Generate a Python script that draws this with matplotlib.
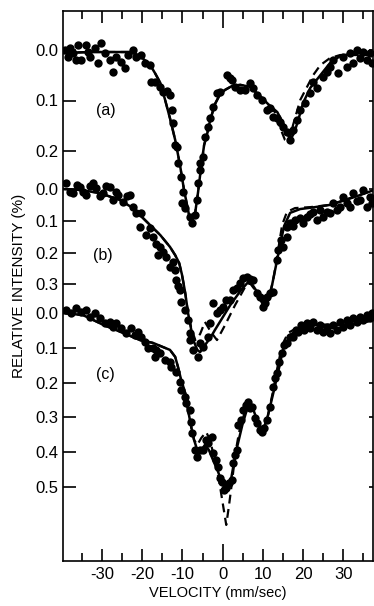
import numpy as np
import matplotlib
matplotlib.use('Agg')
import matplotlib.pyplot as plt
from matplotlib.ticker import MultipleLocator

plt.rcParams['font.family'] = ['Liberation Sans', 'DejaVu Sans']
plt.rcParams['axes.unicode_minus'] = False

# ---- spectrum (a) ----
a_v = [-39.2, -38.4, -37.9, -37.2, -36.4, -35.9, -35.2, -34.0, -33.5, -33.0,
       -31.7, -31.0, -30.2, -29.2, -28.0, -27.2, -26.5, -25.2, -24.3, -23.5,
       -22.3, -21.5, -20.3, -19.3, -18.0, -17.8, -16.8, -15.5, -14.8, -13.8,
       -13.1, -12.6, -12.3, -11.8, -11.3, -11.1, -10.3, -9.8, -10.1, -9.3,
       -8.1, -7.6, -6.8, -6.3, -6.1, -5.6, -5.6, -4.9, -4.4, -3.6,
       -3.1, -2.4, -1.4, -0.6, 1.1, 1.9, 2.4, 3.1, 4.4, 5.6,
       6.8, 7.6, 8.6, 9.8, 11.1, 11.8, 12.6, 13.6, 14.3, 15.0,
       16.0, 16.8, 17.5, 18.5, 19.3, 20.5, 21.8, 22.5, 23.5, 25.0,
       26.0, 26.7, 27.5, 28.7, 29.9, 31.0, 31.7, 32.5, 33.5, 34.2,
       34.9, 35.9, 36.7, 37.2]
a_i = [0.000, 0.014, -0.004, 0.006, 0.020, -0.010, 0.020, -0.010, 0.004, 0.014,
       -0.004, 0.026, -0.014, 0.006, 0.020, 0.044, 0.014, 0.024, 0.036, 0.010,
       0.000, 0.014, 0.010, 0.026, 0.030, 0.063, 0.063, 0.073, 0.083, 0.081,
       0.089, 0.119, 0.145, 0.188, 0.192, 0.224, 0.251, 0.281, 0.303, 0.313,
       0.331, 0.343, 0.327, 0.297, 0.263, 0.238, 0.224, 0.212, 0.172, 0.152,
       0.135, 0.113, 0.085, 0.083, 0.050, 0.055, 0.059, 0.073, 0.079, 0.079,
       0.065, 0.075, 0.089, 0.099, 0.119, 0.115, 0.133, 0.135, 0.143, 0.152,
       0.162, 0.178, 0.158, 0.139, 0.119, 0.105, 0.085, 0.063, 0.075, 0.053,
       0.044, 0.034, 0.020, 0.046, 0.014, 0.034, 0.006, 0.026, 0.000, 0.016,
       0.004, 0.020, 0.006, 0.026]
a_fit_v = [-39.7, -33.0, -28.0, -23.0, -20.5, -18.0, -16.8, -15.5, -14.3, -13.1,
           -11.8, -10.6, -9.6, -8.8, -8.1, -7.6, -6.8, -6.1, -5.3, -4.6,
           -3.9, -3.1, -1.9, -0.6, 0.6, 2.4, 4.4, 6.8, 9.3, 11.3,
           13.6, 15.3, 16.8, 17.8, 18.8, 20.0, 21.8, 24.3, 26.7, 29.2,
           31.7, 34.9, 37.7]
a_fit_i = [0.006, 0.004, 0.004, 0.004, 0.012, 0.030, 0.046, 0.065, 0.099, 0.135,
           0.178, 0.228, 0.277, 0.309, 0.337, 0.341, 0.321, 0.281, 0.228, 0.188,
           0.168, 0.139, 0.107, 0.087, 0.079, 0.071, 0.069, 0.073, 0.091, 0.107,
           0.123, 0.149, 0.178, 0.164, 0.139, 0.105, 0.075, 0.050, 0.026, 0.012,
           0.008, 0.006, 0.010]
a_dash_v = a_fit_v[:30] + [13.6, 14.3, 15.5, 16.5, 17.5, 19.3, 21.0, 22.5, 24.3, 26.7, 29.2, 37.7]
a_dash_i = a_fit_i[:30] + [0.129, 0.154, 0.178, 0.184, 0.149, 0.099, 0.073, 0.050, 0.030, 0.016, 0.010, 0.010]

# ---- spectrum (b) ----
b_v = [-39.0, -37.9, -37.2, -36.2, -35.4, -34.7, -34.0, -33.0, -32.2, -31.5,
       -30.5, -29.7, -29.0, -28.0, -27.2, -26.5, -26.0, -24.8, -23.8, -23.0,
       -22.3, -21.5, -20.3, -20.5, -19.0, -18.0, -17.3, -16.5, -15.5, -16.0,
       -14.8, -14.1, -13.1, -12.3, -11.8, -11.6, -11.1, -10.6, -10.3, -9.3,
       -8.6, -8.1, -8.1, -7.3, -6.1, -5.6, -4.9, -3.6, -3.1, -2.4,
       -1.4, -0.6, 0.1, 0.9, 1.9, 2.6, 3.6, 4.4, 5.1, 6.1,
       6.8, 7.6, 8.6, 9.3, 10.1, 10.6, 11.1, 11.8, 12.6, 13.6,
       13.8, 14.6, 15.0, 16.0, 16.0, 16.8, 17.5, 18.0, 19.3, 20.0,
       21.0, 21.8, 22.5, 23.5, 24.3, 25.0, 26.0, 26.7, 27.5, 28.5,
       29.2, 29.9, 31.0, 31.7, 32.5, 33.5, 34.2, 34.9, 35.9, 36.7, 37.2]
b_i = [-0.019, 0.009, 0.013, -0.013, -0.006, 0.009, 0.019, -0.009, -0.019, -0.003,
       0.022, 0.013, -0.009, -0.006, 0.035, 0.009, 0.019, 0.041, 0.022, 0.019,
       0.057, 0.075, 0.075, 0.119, 0.145, 0.123, 0.151, 0.173, 0.182, 0.208,
       0.198, 0.214, 0.245, 0.230, 0.255, 0.286, 0.305, 0.318, 0.355, 0.381,
       0.412, 0.453, 0.475, 0.506, 0.528, 0.484, 0.497, 0.465, 0.421, 0.358,
       0.390, 0.381, 0.371, 0.349, 0.349, 0.318, 0.311, 0.296, 0.280, 0.277,
       0.283, 0.286, 0.327, 0.340, 0.371, 0.358, 0.340, 0.327, 0.324, 0.223,
       0.192, 0.160, 0.182, 0.151, 0.119, 0.107, 0.116, 0.097, 0.091, 0.107,
       0.088, 0.079, 0.072, 0.097, 0.066, 0.088, 0.072, 0.075, 0.044, 0.066,
       0.057, 0.025, 0.044, 0.057, 0.013, 0.038, 0.035, 0.003, 0.057, 0.025, 0.044]
b_fit_v = [-39.7, -35.4, -30.5, -25.5, -22.3, -18.8, -15.5, -13.1, -11.8, -10.8,
           -10.1, -9.3, -8.6, -7.8, -7.1, -6.3, -5.6, -4.4, -3.1, -1.9,
           -0.1, 1.9, 4.4, 6.1, 7.3, 8.6, 9.8, 10.6, 11.3, 12.3,
           13.3, 14.3, 15.3, 16.8, 19.3, 23.0, 26.7, 30.5, 34.2, 37.7]
b_fit_i = [0.000, 0.003, 0.013, 0.035, 0.060, 0.104, 0.145, 0.182, 0.208, 0.233,
           0.270, 0.327, 0.390, 0.443, 0.481, 0.506, 0.513, 0.491, 0.469, 0.443,
           0.406, 0.365, 0.321, 0.296, 0.299, 0.324, 0.358, 0.365, 0.349, 0.302,
           0.239, 0.176, 0.116, 0.075, 0.063, 0.057, 0.050, 0.035, 0.019, 0.003]
b_dash_v = b_fit_v[:13] + [-7.8, -6.8, -5.6, -4.4, -2.9, -1.4, 0.6,
                           3.1, 5.6, 6.8, 8.1, 9.8, 10.8, 11.8, 12.8, 13.8, 14.8,
                           16.0, 18.0, 21.8, 26.7, 37.7]
b_dash_i = b_fit_i[:13] + [0.437, 0.475, 0.456, 0.418, 0.450, 0.475, 0.428,
                           0.365, 0.308, 0.296, 0.318, 0.358, 0.368, 0.333, 0.270, 0.192, 0.113,
                           0.072, 0.060, 0.057, 0.050, 0.003]

# ---- spectrum (c) ----
c_v = [-38.9, -37.7, -36.4, -35.2, -34.0, -33.0, -31.7, -30.5, -29.2, -28.0,
       -27.2, -26.5, -25.2, -24.0, -22.8, -21.8, -21.0, -20.3, -19.3, -18.5,
       -17.3, -16.5, -16.8, -15.5, -14.3, -13.1, -12.8, -11.6, -10.6, -10.3,
       -9.3, -9.1, -8.1, -7.8,
       -7.6, -6.8, -6.3, -5.6, -4.9, -4.1, -3.6, -2.6, -2.4, -1.6,
       -1.1, -0.6, -0.1, 0.4, 0.9, 1.6, 2.4, 2.6, 3.1, 3.6,
       3.9, 4.6, 5.1, 5.8, 6.3, 6.8, 7.3, 8.1, 8.6, 9.3,
       9.8, 10.3, 11.1, 11.8, 12.6, 13.1, 13.6, 14.1, 14.8, 15.3,
       16.0, 16.8, 17.5, 18.3, 18.8, 19.5, 20.3, 21.0, 21.8, 22.5,
       23.5, 24.3, 25.0, 26.0, 26.7, 27.5, 28.5, 29.2, 29.9, 31.0,
       31.7, 32.5, 33.5, 34.2, 34.9, 35.9, 36.7, 37.2]
c_i = [-0.009, 0.000, -0.014, -0.003, -0.009, 0.011, 0.000, 0.014, 0.029, 0.026,
       0.040, 0.029, 0.043, 0.057, 0.043, 0.063, 0.055, 0.069, 0.083, 0.101,
       0.101, 0.106, 0.126, 0.115, 0.135, 0.141, 0.155, 0.170, 0.198, 0.221,
       0.241, 0.259, 0.279, 0.313,
       0.345, 0.394, 0.414, 0.394, 0.394, 0.365, 0.374, 0.356, 0.402, 0.422,
       0.443, 0.474, 0.486, 0.509, 0.503, 0.489, 0.480, 0.431, 0.408, 0.394,
       0.322, 0.307, 0.279, 0.264, 0.256, 0.273, 0.270, 0.302, 0.316, 0.336,
       0.342, 0.330, 0.307, 0.270, 0.213, 0.187, 0.172, 0.141, 0.115, 0.092,
       0.086, 0.069, 0.069, 0.049, 0.055, 0.034, 0.049, 0.029, 0.043, 0.026,
       0.049, 0.034, 0.055, 0.040, 0.057, 0.034, 0.049, 0.026, 0.040, 0.020,
       0.034, 0.014, 0.026, 0.011, 0.020, 0.006, 0.014, 0.000]
c_fit_v = [-39.7, -34.7, -29.7, -24.8, -20.5, -17.3, -14.8, -13.1, -11.8, -11.1,
           -10.3, -9.3, -8.6, -7.8, -7.1, -6.3, -5.3, -4.4, -3.4, -2.4,
           -1.1, -0.1, 0.9, 1.9, 2.6, 3.6, 4.9, 6.3, 7.3, 8.3,
           9.6, 10.3, 11.3, 12.6, 13.8, 15.0, 16.8, 19.3, 23.5, 27.5,
           33.0, 37.7]
c_fit_i = [0.000, 0.006, 0.034, 0.057, 0.078, 0.086, 0.098, 0.106, 0.126, 0.155,
           0.193, 0.230, 0.279, 0.328, 0.365, 0.394, 0.394, 0.379, 0.394, 0.422,
           0.457, 0.491, 0.509, 0.491, 0.445, 0.385, 0.322, 0.267, 0.267, 0.299,
           0.330, 0.330, 0.293, 0.230, 0.170, 0.106, 0.063, 0.043, 0.034, 0.034,
           0.032, 0.020]
c_dash_v = c_fit_v[:15] + [-6.3, -5.3, -4.1, -3.1, -2.1, -0.9, 0.1, 0.9, 1.6, 2.4,
                           3.1, 4.1, 5.3, 6.3, 7.3, 8.3, 9.6, 10.3, 11.3, 12.6,
                           13.6, 14.8, 16.3, 18.5, 23.5, 27.5, 33.0, 37.7]
c_dash_i = c_fit_i[:15] + [0.379, 0.359, 0.342, 0.365, 0.417, 0.480, 0.552, 0.609, 0.552, 0.480,
                           0.408, 0.342, 0.293, 0.264, 0.267, 0.299, 0.330, 0.330, 0.293, 0.221,
                           0.158, 0.092, 0.057, 0.043, 0.034, 0.034, 0.032, 0.020]

a_ticks = [0.0, 0.1, 0.2]
b_ticks = [0.0, 0.1, 0.2, 0.3]
c_ticks = [0.0, 0.1, 0.2, 0.3, 0.4, 0.5]

# each spectrum is stacked in a shared vertical frame: (zero level, units per 1 %)
rows = {'a': (50, 505), 'b': (189, 318), 'c': (313, 348)}


def place(panel, vals):
    base, gain = rows[panel]
    return base + gain * np.asarray(vals)


fig = plt.figure(figsize=(3.74, 6.06), dpi=100)
ax = fig.add_axes([63 / 374, 45 / 606, 310 / 374, 550 / 606])

spectra = [('a', a_v, a_i, a_fit_v, a_fit_i, a_dash_v, a_dash_i),
           ('b', b_v, b_i, b_fit_v, b_fit_i, b_dash_v, b_dash_i),
           ('c', c_v, c_i, c_fit_v, c_fit_i, c_dash_v, c_dash_i)]
for key, v, i, fv, fi, dv, di in spectra:
    ax.plot(fv, place(key, fi), color='black', lw=1.8, zorder=2)
    ax.plot(dv, place(key, di), color='black', lw=1.6, ls=(0, (4, 2.5)), zorder=2)
    ax.plot(v, place(key, i), 'o', color='black', ms=6, mew=0, zorder=3)

ax.text(-29.0, place('a', 0.119), '(a)', ha='center', va='center', fontsize=11.5)
ax.text(-29.7, place('b', 0.208), '(b)', ha='center', va='center', fontsize=11.5)
ax.text(-29.2, place('c', 0.178), '(c)', ha='center', va='center', fontsize=11.5)

ax.set_xlim(-39.7, 37.4)
ax.set_ylim(561, 11)

ytick_pos = list(place('a', a_ticks)) + list(place('b', b_ticks)) + list(place('c', c_ticks))
ytick_lab = ['%.1f' % t for t in a_ticks + b_ticks + c_ticks]
ax.set_yticks(ytick_pos)
ax.set_yticklabels(ytick_lab)

ax.xaxis.set_major_locator(MultipleLocator(10))
ax.xaxis.set_minor_locator(MultipleLocator(5))
ax.tick_params(axis='x', which='both', direction='in', top=True, bottom=True, width=1.2)
ax.tick_params(axis='x', which='major', length=8.5, labelsize=12, pad=4)
ax.tick_params(axis='x', which='minor', length=5.5)
ax.tick_params(axis='y', direction='in', left=True, right=True, length=9,
               width=1.2, labelsize=12, pad=3)

for t, loc in zip(ax.xaxis.get_major_ticks(), ax.xaxis.get_majorticklocs()):
    if loc == 0:
        t.tick1line.set_markersize(12)
        t.tick2line.set_markersize(12)
for t in ax.yaxis.get_major_ticks():
    t.tick2line.set_markersize(3)

for s in ax.spines.values():
    s.set_linewidth(1.2)

ax.set_xlabel('VELOCITY (mm/sec)', fontsize=10.5, labelpad=3)
ax.set_ylabel('RELATIVE INTENSITY (%)', fontsize=11, labelpad=7)

plt.savefig('out.png', dpi=100)
